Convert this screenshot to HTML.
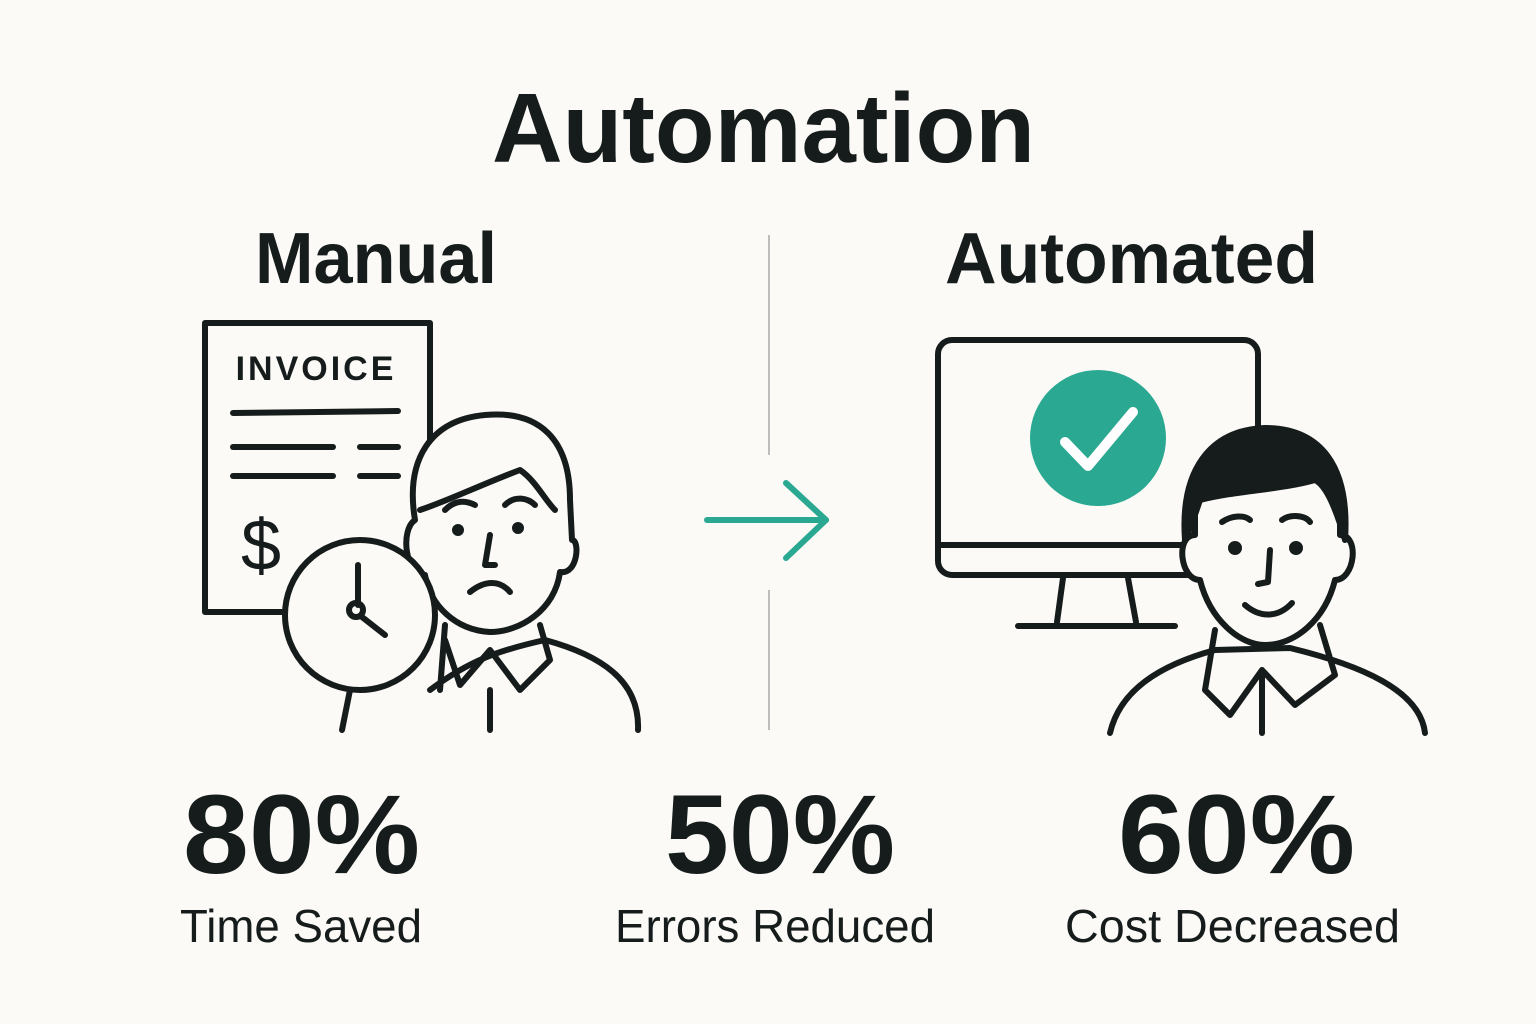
<!DOCTYPE html>
<html><head><meta charset="utf-8"><style>
html,body{margin:0;padding:0;background:#fbfaf7;}
body{width:1536px;height:1024px;overflow:hidden;position:relative;font-family:"Liberation Sans",sans-serif;color:#161c1c;}
</style></head><body>
<svg width="1536" height="1024" viewBox="0 0 1536 1024" xmlns="http://www.w3.org/2000/svg" style="position:absolute;left:0;top:0">
<rect width="1536" height="1024" fill="#fbfaf7"/>
<g font-family="Liberation Sans, sans-serif" fill="#161c1c">
<text x="492" y="162" font-size="98" font-weight="bold" textLength="543" lengthAdjust="spacingAndGlyphs">Automation</text>
<text x="255" y="283" font-size="72" font-weight="bold" textLength="242" lengthAdjust="spacingAndGlyphs">Manual</text>
<text x="945" y="283" font-size="72" font-weight="bold" textLength="373" lengthAdjust="spacingAndGlyphs">Automated</text>
<text x="183" y="873" font-size="112" font-weight="bold" textLength="237" lengthAdjust="spacingAndGlyphs">80%</text>
<text x="665" y="873" font-size="112" font-weight="bold" textLength="230" lengthAdjust="spacingAndGlyphs">50%</text>
<text x="1118" y="873" font-size="112" font-weight="bold" textLength="237" lengthAdjust="spacingAndGlyphs">60%</text>
<text x="180" y="942" font-size="46" textLength="242" lengthAdjust="spacingAndGlyphs">Time Saved</text>
<text x="615" y="942" font-size="46" textLength="320" lengthAdjust="spacingAndGlyphs">Errors Reduced</text>
<text x="1065" y="942" font-size="46" textLength="335" lengthAdjust="spacingAndGlyphs">Cost Decreased</text>
</g>
<g stroke="#bdbdbd" stroke-width="2"><line x1="769" y1="235" x2="769" y2="455"/><line x1="769" y1="590" x2="769" y2="730"/></g>
<g stroke="#2aa892" stroke-width="6" fill="none" stroke-linecap="round" stroke-linejoin="round">
<line x1="707" y1="520" x2="826" y2="520"/><polyline points="786,483 826,520 786,558"/></g>
<g stroke="#161c1c" stroke-width="6" fill="none" stroke-linecap="round" stroke-linejoin="round">
<rect x="205" y="323" width="225" height="289" fill="#fbfaf7"/>
<line x1="233" y1="413" x2="398" y2="411"/>
<line x1="233" y1="447" x2="333" y2="447"/><line x1="360" y1="447" x2="398" y2="447"/>
<line x1="233" y1="476" x2="333" y2="476"/><line x1="360" y1="476" x2="398" y2="476"/>
</g>
<text x="316" y="380" font-family="Liberation Sans, sans-serif" font-size="34" font-weight="bold" letter-spacing="3" text-anchor="middle" fill="#161c1c">INVOICE</text>
<text x="261" y="570" font-family="Liberation Sans, sans-serif" font-size="72" text-anchor="middle" fill="#161c1c">$</text>
<g stroke="#161c1c" stroke-width="6" fill="none" stroke-linecap="round" stroke-linejoin="round">
<path d="M430,690 C470,660 500,650 545,640 C600,655 640,680 638,730" fill="#fbfaf7"/>
<path d="M415,520 C405,460 430,420 485,415 C540,410 570,440 570,500 L572,540 C580,540 578,575 560,572 C555,610 520,632 490,632 C455,630 430,605 425,575 C405,575 400,530 415,520 Z" fill="#fbfaf7"/>
<path d="M420,510 C450,500 480,485 520,470 C535,480 545,500 555,510"/>
<path d="M445,625 L440,690 M540,625 L550,660 L520,690 L490,650 L460,685 L445,640"/>
<line x1="490" y1="690" x2="490" y2="730"/>
<path d="M445,510 C455,500 465,500 475,505"/><path d="M505,505 C515,495 528,498 535,505"/>
<circle cx="458" cy="530" r="3" fill="#161c1c"/><circle cx="518" cy="528" r="3" fill="#161c1c"/>
<path d="M490,535 L485,565 L495,565"/><path d="M470,592 C485,580 500,580 510,592"/>
<line x1="350" y1="690" x2="342" y2="730"/>
<circle cx="360" cy="615" r="75" fill="#fbfaf7"/>
<line x1="358" y1="565" x2="358" y2="605"/><line x1="362" y1="617" x2="385" y2="635"/>
<circle cx="356" cy="610" r="7"/>
<rect x="938" y="340" width="320" height="235" rx="14" fill="#fbfaf7"/>
<line x1="940" y1="545" x2="1256" y2="545"/>
<line x1="1063" y1="578" x2="1057" y2="622"/><line x1="1128" y1="578" x2="1136" y2="622"/>
<line x1="1018" y1="626" x2="1175" y2="626"/>
</g>
<circle cx="1098" cy="438" r="68" fill="#2aa892"/>
<polyline points="1065,442 1088,466 1133,412" fill="none" stroke="#fff" stroke-width="10" stroke-linecap="round" stroke-linejoin="round"/>
<g stroke="#161c1c" stroke-width="6" fill="none" stroke-linecap="round" stroke-linejoin="round">
<path d="M1110,733 C1120,690 1160,665 1215,650 L1290,648 C1360,665 1420,690 1425,733" fill="#fbfaf7"/>
<path d="M1195,535 C1175,535 1180,580 1200,580 C1210,620 1240,645 1265,645 C1295,645 1325,620 1335,580 C1355,580 1360,535 1340,535 L1340,500 C1330,460 1300,440 1265,440 C1225,440 1195,465 1195,500 Z" fill="#fbfaf7"/>
<path d="M1185,540 C1180,470 1210,430 1265,428 C1320,428 1350,465 1345,540 C1335,505 1325,485 1315,480 C1280,490 1240,490 1200,500 C1195,515 1190,530 1185,540 Z" fill="#161c1c"/>
<path d="M1215,630 L1205,690 L1230,715 L1262,670 L1295,705 L1335,675 L1320,625"/>
<line x1="1262" y1="675" x2="1262" y2="733"/>
<path d="M1222,522 C1232,515 1245,515 1250,520"/><path d="M1282,520 C1290,514 1305,515 1310,522"/>
<circle cx="1235" cy="548" r="4" fill="#161c1c"/><circle cx="1296" cy="548" r="4" fill="#161c1c"/>
<path d="M1270,550 L1268,582 L1258,584"/><path d="M1245,605 C1260,618 1278,618 1292,603"/>
</g>
</svg>
</body></html>
